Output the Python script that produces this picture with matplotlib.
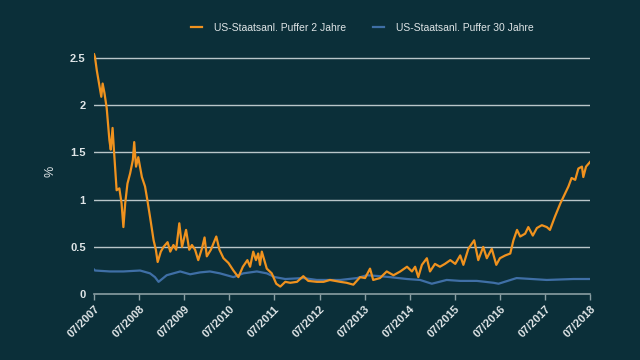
import matplotlib
matplotlib.use('Agg')
import matplotlib.pyplot as plt

matplotlib.rcParams['font.family'] = ['Liberation Sans', 'DejaVu Sans']

BG = '#0b2f39'
TXT = '#dfe5e7'

# US 2y (orange): decimal year / value
y2_t = [2007.50, 2007.52, 2007.56, 2007.62, 2007.66, 2007.69, 2007.73, 2007.78, 2007.84, 2007.87,
        2007.91, 2007.94, 2008.00, 2008.06, 2008.11, 2008.15, 2008.19, 2008.24, 2008.30, 2008.36,
        2008.39, 2008.43, 2008.48, 2008.56, 2008.63, 2008.68, 2008.74, 2008.82, 2008.87, 2008.91,
        2008.98, 2009.04, 2009.13, 2009.19, 2009.26, 2009.32, 2009.39, 2009.45, 2009.54, 2009.61,
        2009.67, 2009.74, 2009.81, 2009.89, 2009.95, 2010.00, 2010.09, 2010.15, 2010.21, 2010.28,
        2010.37, 2010.48, 2010.59, 2010.70, 2010.80, 2010.90, 2010.96, 2011.03, 2011.09, 2011.14,
        2011.18, 2011.22, 2011.33, 2011.44, 2011.54, 2011.63, 2011.74, 2011.85, 2012.00, 2012.14,
        2012.25, 2012.44, 2012.59, 2012.73, 2012.96, 2013.10, 2013.25, 2013.40, 2013.51, 2013.62,
        2013.69, 2013.84, 2013.99, 2014.14, 2014.29, 2014.44, 2014.55, 2014.62, 2014.69, 2014.77,
        2014.88, 2014.95, 2015.06, 2015.17, 2015.28, 2015.40, 2015.51, 2015.62, 2015.69, 2015.80,
        2015.93, 2016.02, 2016.13, 2016.21, 2016.32, 2016.42, 2016.50, 2016.62, 2016.73, 2016.80,
        2016.88, 2016.95, 2017.06, 2017.13, 2017.23, 2017.32, 2017.43, 2017.54, 2017.61, 2017.72,
        2017.84, 2017.95, 2018.02, 2018.09, 2018.17, 2018.24, 2018.32, 2018.35, 2018.41, 2018.50]
y2_vals = [2.54, 2.51, 2.37, 2.2, 2.09, 2.23, 2.13, 1.97, 1.63, 1.53,
           1.76, 1.53, 1.1, 1.12, 0.96, 0.71, 0.96, 1.17, 1.28, 1.42,
           1.61, 1.35, 1.45, 1.24, 1.14, 1.0, 0.82, 0.57, 0.47, 0.34,
           0.45, 0.5, 0.55, 0.45, 0.52, 0.47, 0.75, 0.5, 0.68, 0.47,
           0.52, 0.47, 0.36, 0.48, 0.6, 0.4, 0.47, 0.54, 0.61, 0.47,
           0.38, 0.33, 0.25, 0.18, 0.29, 0.36, 0.29, 0.45, 0.36, 0.43,
           0.31, 0.45, 0.27, 0.22, 0.11, 0.08, 0.13, 0.12, 0.13, 0.19,
           0.14, 0.13, 0.13, 0.15, 0.13, 0.12, 0.1, 0.18, 0.17, 0.27,
           0.15, 0.17, 0.24, 0.2, 0.24, 0.29, 0.24, 0.29, 0.18, 0.31,
           0.38, 0.24, 0.32, 0.29, 0.32, 0.36, 0.32, 0.41, 0.31, 0.48,
           0.57, 0.36, 0.5, 0.38, 0.48, 0.31, 0.38, 0.41, 0.43, 0.57,
           0.68, 0.61, 0.64, 0.71, 0.62, 0.7, 0.73, 0.71, 0.68, 0.82,
           0.96, 1.07, 1.14, 1.23, 1.21, 1.33, 1.35, 1.24, 1.35, 1.4]

# US 30y (blue)
y30_t = [2007.50, 2007.52, 2007.85, 2008.15, 2008.52, 2008.74, 2008.85, 2008.93, 2009.11, 2009.41,
         2009.63, 2009.85, 2010.07, 2010.29, 2010.59, 2010.81, 2011.11, 2011.33, 2011.51, 2011.74,
         2012.14, 2012.44, 2012.96, 2013.33, 2013.55, 2013.84, 2014.06, 2014.44, 2014.73, 2014.99,
         2015.32, 2015.62, 2015.99, 2016.36, 2016.47, 2016.87, 2017.54, 2018.13, 2018.50]
y30_vals = [0.26, 0.25, 0.24, 0.24, 0.25, 0.22, 0.18, 0.13, 0.2, 0.24,
            0.21, 0.23, 0.24, 0.22, 0.18, 0.22, 0.24, 0.22, 0.18, 0.16,
            0.17, 0.15, 0.15, 0.17, 0.2, 0.19, 0.18, 0.16, 0.15, 0.11,
            0.15, 0.14, 0.14, 0.12, 0.11, 0.17, 0.15, 0.16, 0.16]

labels = ['US-Staatsanl. Puffer 2 Jahre', 'US-Staatsanl. Puffer 30 Jahre']
xticks = [2007.5 + i for i in range(12)]
xtick_labels = ['07/%d' % (2007 + i) for i in range(12)]
yticks = [0, 0.5, 1, 1.5, 2, 2.5]
ytick_labels = ['0', '0.5', '1', '1.5', '2', '2.5']

fig = plt.figure(figsize=(6.4, 3.6), dpi=100, facecolor=BG)
ax = fig.add_axes([0.147, 0.183, 0.775, 0.682])
ax.set_facecolor('none')

ax.plot(y2_t, y2_vals, color='#f0921e', linewidth=1.6, label=labels[0], zorder=3)
ax.plot(y30_t, y30_vals, color='#3f6fa6', linewidth=1.6, label=labels[1], zorder=2)

ax.set_xlim(2007.5, 2018.5)
ax.set_ylim(0, 2.6)
ax.set_yticks(yticks)
ax.set_yticklabels(ytick_labels)
for y in yticks[1:]:
    ax.axhline(y, color='#b9c6c9', linewidth=1.0, zorder=1)

ax.set_xticks(xticks)
ax.set_xticklabels(xtick_labels, rotation=45, ha='right', rotation_mode='anchor')

ax.tick_params(axis='x', colors='#8a9ea2', length=4, width=1, labelsize=8, labelcolor=TXT, pad=3)
ax.tick_params(axis='y', length=0, labelsize=8, labelcolor=TXT, pad=6)
for lab in ax.get_xticklabels() + ax.get_yticklabels():
    lab.set_fontweight('bold')

for s in ['top', 'right', 'left']:
    ax.spines[s].set_visible(False)
ax.spines['bottom'].set_color('#8a9ea2')
ax.spines['bottom'].set_linewidth(1.2)

ax.set_ylabel('%', color=TXT, fontsize=9, labelpad=10)

fig.legend(loc='center', bbox_to_anchor=(0.566, 0.922), ncol=2, frameon=False,
           fontsize=7.5, labelcolor=TXT, handlelength=1.1, columnspacing=2.6, handletextpad=1.1)

plt.savefig('out.png', dpi=100, facecolor=BG)
